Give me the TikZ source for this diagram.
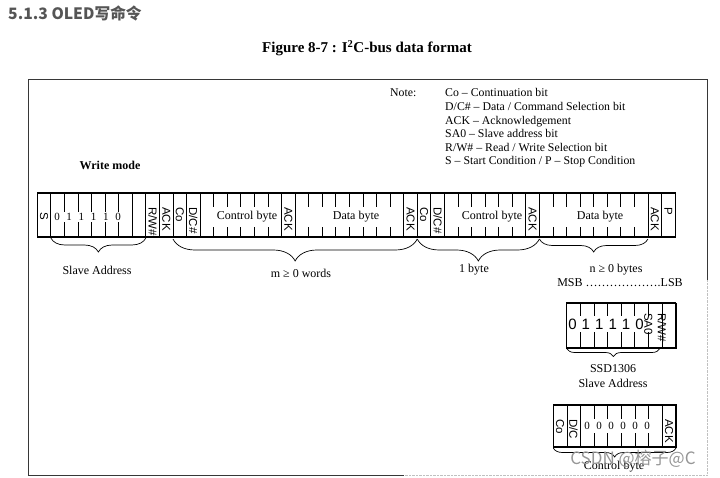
\documentclass[tikz,border=0pt]{standalone}
\usepackage{fontspec}
\setmainfont{Liberation Serif}
\setsansfont{Liberation Sans}
\newfontfamily\cjk{Noto Sans CJK SC}
\usepackage{tikz}
\usetikzlibrary{decorations.pathreplacing,calc}
\definecolor{headgray}{RGB}{85,85,85}
\definecolor{framegray}{RGB}{55,55,55}
\definecolor{markgray}{RGB}{150,150,150}
\newcommand{\cellx}[1]{37.3+13.57*#1}
\tikzset{
    bitlabel/.style={rotate=-90, anchor=west, inner sep=0pt, font=\sffamily\fontsize{11.5}{12}\selectfont},
    textlabel/.style={inner sep=0pt, font=\fontsize{12}{12}\selectfont},
    notelabel/.style={anchor=base west, inner sep=0pt, font=\fontsize{11.8}{12}\selectfont},
    cellrule/.style={line width=0.8pt},
    cellframe/.style={line width=1.1pt},
    bitbrace/.style={decorate, decoration={brace, mirror, amplitude=#1}, line width=0.7pt},
}

\begin{document}
\begin{tikzpicture}[x=1pt, y=-1pt]
    \useasboundingbox (0,0) rectangle (720,478);

    % Heading and title
    \node[anchor=west, inner sep=0pt, text=headgray, font=\cjk\bfseries\fontsize{15.7}{16}\selectfont] (heading) at (8,13) {5.1.3 OLED写命令};
    \node[textlabel, font=\bfseries\fontsize{15}{15}\selectfont] (title) at (367,48) {Figure 8-7 : I\textsuperscript{2}C-bus data format};

    % Frame
    \draw[framegray, line width=0.9pt] (404,475) -- (28,475) -- (28,79) -- (707,79) -- (707,280);
    \draw[markgray!60, densely dotted] (707,280) -- (707,475) -- (404,475);

    % Notes
    \node[notelabel] (note) at (390,97) {Note:};
    \node[notelabel] (n1) at (445,97) {Co – Continuation bit};
    \node[notelabel] (n2) at (445,110.6) {D/C\# – Data / Command Selection bit};
    \node[notelabel] (n3) at (445,124.2) {ACK – Acknowledgement};
    \node[notelabel] (n4) at (445,137.8) {SA0 – Slave address bit};
    \node[notelabel] (n5) at (445,151.4) {R/W\# – Read / Write Selection bit};
    \node[notelabel] (n6) at (445,165) {S – Start Condition / P – Stop Condition};

    \node[textlabel, font=\bfseries\fontsize{12}{12}\selectfont] (mode) at (110,165) {Write mode};

    % Write mode strip
    \foreach \i in {1,...,46}
        \draw[cellrule] ({\cellx{\i}},193) -- ({\cellx{\i}},237);
    \draw[cellframe] (37.3,193) rectangle ({\cellx{47}},237);
    \fill[white] (52,212) rectangle (129,222);
    \fill[white] (209,207) rectangle (279,227);
    \fill[white] (303,207) rectangle (396,227);
    \fill[white] (452,207) rectangle (522,227);
    \fill[white] (549,207) rectangle (638,227);
    \foreach \d [count=\k from 0] in {0,1,1,1,1,0}
        \node[textlabel, font=\fontsize{11}{11}\selectfont] (addr\k) at ({57+12.2*\k},217) {\d};
    \node[textlabel] (ctrlA) at (247,217) {Control byte};
    \node[textlabel] (dataA) at (356,217) {Data byte};
    \node[textlabel] (ctrlB) at (492,217) {Control byte};
    \node[textlabel] (dataB) at (600,217) {Data byte};

    \node[bitlabel] (start) at ({\cellx{0.5}},212) {S};
    \node[bitlabel] (rwA) at ({\cellx{8.5}},207) {R/W\#};
    \node[bitlabel] (ackA) at ({\cellx{9.5}},207) {ACK};
    \node[bitlabel] (coA) at ({\cellx{10.5}},207) {Co};
    \node[bitlabel] (dcA) at ({\cellx{11.5}},207) {D/C\#};
    \node[bitlabel] (ackB) at ({\cellx{18.5}},207) {ACK};
    \node[bitlabel] (ackC) at ({\cellx{27.5}},207) {ACK};
    \node[bitlabel] (coB) at ({\cellx{28.5}},207) {Co};
    \node[bitlabel] (dcB) at ({\cellx{29.5}},207) {D/C\#};
    \node[bitlabel] (ackD) at ({\cellx{36.5}},207) {ACK};
    \node[bitlabel] (ackE) at ({\cellx{45.5}},207) {ACK};
    \node[bitlabel] (stop) at ({\cellx{46.5}},207) {P};

    % Braces under the strip
    \coordinate (saL) at ({\cellx{1}},238);
    \coordinate (saR) at ({\cellx{8}},238);
    \coordinate (mL) at ({\cellx{10}},239);
    \coordinate (mR) at ({\cellx{28}},239);
    \coordinate (bR) at ({\cellx{37}},239);
    \coordinate (nR) at ({\cellx{45}},239);
    \draw[bitbrace=14] (saL) -- (saR);
    \draw[bitbrace=22] (mL) -- (mR);
    \draw[bitbrace=22] (mR) -- (bR);
    \draw[bitbrace=13] (bR) -- (nR);
    \node[textlabel] (slave) at (97,270) {Slave Address};
    \node[textlabel] (words) at (301,273) {m ≥ 0 words};
    \node[textlabel] (onebyte) at (474,270) {1 byte};
    \node[textlabel] (bytes) at (616,270) {n ≥ 0 bytes};
    \node[textlabel] (msb) at (620,283) {MSB ……………….LSB};

    % Slave address byte
    \foreach \i in {1,...,7}
        \draw[cellrule] ({566.7+13.6*\i},303) -- ({566.7+13.6*\i},348);
    \draw[cellframe] (566.7,303) rectangle (675.5,348);
    \draw[line width=2pt] (675.5,303) -- (675.5,348.5);
    \fill[white] (569,316) rectangle (649,332);
    \foreach \d [count=\k from 0] in {0,1,1,1,1,0}
        \node[inner sep=0pt, font=\sffamily\fontsize{15}{15}\selectfont] (sbit\k) at ({572.5+13.4*\k},324) {\d};
    \node[bitlabel] (sa0) at (648.3,313) {SA0};
    \node[bitlabel] (rwB) at (661.9,313) {R/W\#};
    \coordinate (ssdL) at (566.7,348.5);
    \coordinate (ssdR) at (660,348.5);
    \draw[bitbrace=8] (ssdL) -- (ssdR);
    \node[textlabel] (ssd) at (613,369) {SSD1306};
    \node[textlabel] (ssdaddr) at (613,383) {Slave Address};

    % Control byte
    \foreach \i in {1,...,8}
        \draw[cellrule] ({553.3+13.63*\i},405) -- ({553.3+13.63*\i},447);
    \draw[cellframe] (553.3,405) rectangle (676,447);
    \draw[line width=1.8pt] (553.3,405) -- (676,405);
    \fill[white] (583,419) rectangle (652,433);
    \foreach \d [count=\k from 0] in {0,0,0,0,0,0}
        \node[textlabel, font=\fontsize{11}{11}\selectfont] (cbit\k) at ({587+12*\k},426) {\d};
    \node[bitlabel] (coC) at (560,419) {Co};
    \node[bitlabel] (dcC) at (573.6,419) {D/C};
    \node[bitlabel] (ackF) at (669,419) {ACK};
    \coordinate (cbL) at (553.3,448);
    \coordinate (cbR) at (676,448);
    \draw[bitbrace=9] (cbL) -- (cbR);
    \node[textlabel] (cbyte) at (614,467) {Control byte};

    % Watermark
    \node[inner sep=0pt, text=markgray, font=\cjk\fontsize{17}{17}\selectfont] (mark) at (633,459) {CSDN @榕子@C};
\end{tikzpicture}
\end{document}
